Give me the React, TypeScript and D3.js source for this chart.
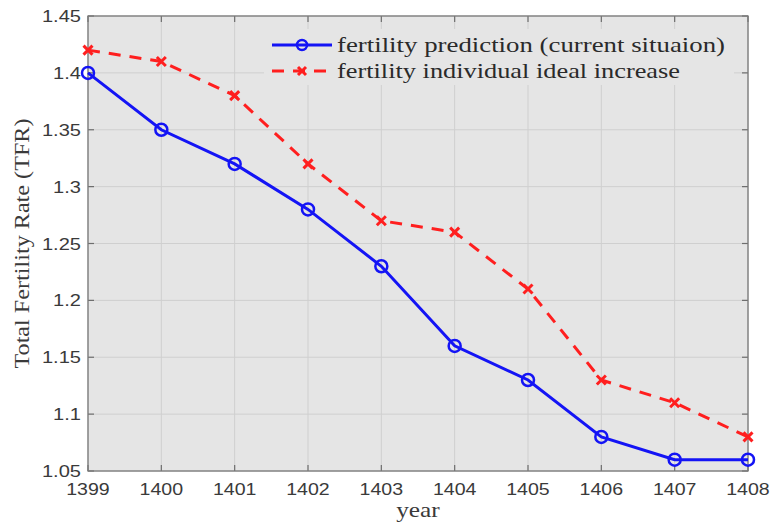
import * as d3 from 'd3';
import { useEffect, useRef } from "react";

const years = [1399, 1400, 1401, 1402, 1403, 1404, 1405, 1406, 1407, 1408];
const currentSituation = [1.40, 1.35, 1.32, 1.28, 1.23, 1.16, 1.13, 1.08, 1.06, 1.06];
const idealIncrease = [1.42, 1.41, 1.38, 1.32, 1.27, 1.26, 1.21, 1.13, 1.11, 1.08];
const yTicks = [1.05, 1.1, 1.15, 1.2, 1.25, 1.3, 1.35, 1.4, 1.45];
const seriesNames = ['fertility prediction (current situaion)', 'fertility individual ideal increase'];

const W = 770;
const H = 523;
const M = { left: 88, right: 22, top: 16, bottom: 52 };
const BLUE = '#1414f5';
const RED = '#ff1f1f';
const SANS = 'Liberation Sans, Arial, sans-serif';
const SERIF = 'Liberation Serif, Times New Roman, serif';

// the picture is a little wider than tall, so stretch glyphs horizontally
function stretch(sel: any, k: number) {
    sel.each(function (this: SVGTextElement) {
        const w = this.getComputedTextLength();
        this.setAttribute('textLength', String(w * k));
        this.setAttribute('lengthAdjust', 'spacingAndGlyphs');
    });
}

export default function App() {
    const ref = useRef(null);
    useEffect(() => {
        if (!ref.current) return;
        const svg = d3.select(ref.current);
        svg.selectAll("*").remove();

        const x = d3.scaleLinear().domain([1399, 1408]).range([M.left, W - M.right]);
        const y = d3.scaleLinear().domain([1.05, 1.45]).range([H - M.bottom, M.top]);
        const [x0, x1] = x.range();
        const [y0, y1] = y.range();

        svg.append('rect')
            .attr('x', x0).attr('y', y1)
            .attr('width', x1 - x0).attr('height', y0 - y1)
            .attr('fill', '#e5e5e5');

        // grid
        const grid = svg.append('g').attr('stroke', '#cfcfcf').attr('stroke-width', 1);
        grid.selectAll('.gx').data(years).enter().append('line')
            .attr('x1', d => x(d)).attr('x2', d => x(d))
            .attr('y1', y0).attr('y2', y1);
        grid.selectAll('.gy').data(yTicks).enter().append('line')
            .attr('x1', x0).attr('x2', x1)
            .attr('y1', d => y(d)).attr('y2', d => y(d));

        // ticks (inward, all four sides)
        const tk = svg.append('g').attr('stroke', '#6e6e6e').attr('stroke-width', 1.2);
        years.forEach(d => {
            tk.append('line').attr('x1', x(d)).attr('x2', x(d)).attr('y1', y0).attr('y2', y0 - 6);
            tk.append('line').attr('x1', x(d)).attr('x2', x(d)).attr('y1', y1).attr('y2', y1 + 6);
        });
        yTicks.forEach(d => {
            tk.append('line').attr('x1', x0).attr('x2', x0 + 6).attr('y1', y(d)).attr('y2', y(d));
            tk.append('line').attr('x1', x1).attr('x2', x1 - 6).attr('y1', y(d)).attr('y2', y(d));
        });

        svg.append('rect')
            .attr('x', x0).attr('y', y1)
            .attr('width', x1 - x0).attr('height', y0 - y1)
            .attr('fill', 'none').attr('stroke', '#7a7a7a').attr('stroke-width', 1.3);

        // tick labels
        const xt = svg.append('g').selectAll('text').data(years).enter().append('text')
            .attr('x', d => x(d)).attr('y', y0 + 24)
            .attr('text-anchor', 'middle')
            .attr('font-family', SANS).attr('font-size', 17).attr('fill', '#3a3a3a')
            .text(d => d);
        stretch(xt, 1.15);
        const yt = svg.append('g').selectAll('text').data(yTicks).enter().append('text')
            .attr('x', x0 - 7).attr('y', d => y(d)).attr('dy', '0.36em')
            .attr('text-anchor', 'end')
            .attr('font-family', SANS).attr('font-size', 17).attr('fill', '#3a3a3a')
            .text(d => d3.format('')(d));
        stretch(yt, 1.18);

        // axis titles
        const xl = svg.append('text')
            .attr('x', (x0 + x1) / 2).attr('y', H - 6)
            .attr('text-anchor', 'middle')
            .attr('font-family', SERIF).attr('font-size', 22).attr('fill', '#3a3a3a')
            .text('year');
        stretch(xl, 1.15);
        svg.append('text')
            .attr('transform', `translate(29, ${(y0 + y1) / 2}) rotate(-90)`)
            .attr('text-anchor', 'middle')
            .attr('font-family', SERIF).attr('font-size', 21).attr('fill', '#3a3a3a')
            .attr('textLength', 250).attr('lengthAdjust', 'spacingAndGlyphs')
            .text('Total Fertility Rate (TFR)');

        const line = d3.line<number>()
            .x((_, i) => x(years[i]))
            .y(d => y(d));

        // blue series
        svg.append('path').datum(currentSituation)
            .attr('d', line).attr('fill', 'none')
            .attr('stroke', BLUE).attr('stroke-width', 3);
        svg.append('g').selectAll('circle').data(currentSituation).enter().append('circle')
            .attr('cx', (_, i) => x(years[i])).attr('cy', d => y(d))
            .attr('r', 6).attr('fill', 'none')
            .attr('stroke', BLUE).attr('stroke-width', 2.5);

        // red series
        svg.append('path').datum(idealIncrease)
            .attr('d', line).attr('fill', 'none')
            .attr('stroke', RED).attr('stroke-width', 3)
            .attr('stroke-dasharray', '12,9');
        const cross = (g: any, cx: number, cy: number, s: number) => {
            g.append('path')
                .attr('d', `M${cx - s},${cy - s}L${cx + s},${cy + s}M${cx - s},${cy + s}L${cx + s},${cy - s}`)
                .attr('stroke', RED).attr('stroke-width', 3).attr('fill', 'none');
        };
        const rg = svg.append('g');
        idealIncrease.forEach((d, i) => cross(rg, x(years[i]), y(d), 4.5));

        // legend
        const lg = svg.append('g');
        lg.append('rect')
            .attr('x', 264).attr('y', 29).attr('width', 470).attr('height', 56)
            .attr('fill', '#e5e5e5');
        const ly = [45, 71];
        lg.append('line').attr('x1', 272).attr('x2', 332).attr('y1', ly[0]).attr('y2', ly[0])
            .attr('stroke', BLUE).attr('stroke-width', 3);
        lg.append('circle').attr('cx', 302).attr('cy', ly[0]).attr('r', 5)
            .attr('fill', 'none').attr('stroke', BLUE).attr('stroke-width', 2.5);
        lg.append('line').attr('x1', 272).attr('x2', 332).attr('y1', ly[1]).attr('y2', ly[1])
            .attr('stroke', RED).attr('stroke-width', 3).attr('stroke-dasharray', '12,9');
        cross(lg, 302, ly[1], 4);
        const legendWidths = [388, 343];
        lg.selectAll('text').data(seriesNames).enter().append('text')
            .attr('x', 337).attr('y', (_, i) => ly[i]).attr('dy', '0.32em')
            .attr('font-family', SERIF).attr('font-size', 22).attr('fill', '#2a2a2a')
            .attr('textLength', (_, i) => legendWidths[i]).attr('lengthAdjust', 'spacingAndGlyphs')
            .text(d => d);
    }, []);

    return (
        <svg ref={ref} width={W} height={H}
            style={{ position: 'absolute', left: 0, top: 0, background: '#fff' }}></svg>
    );
}
